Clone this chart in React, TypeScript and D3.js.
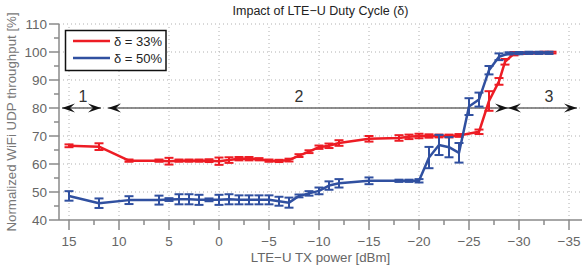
import React from "react";
import * as d3 from "d3";

// LTE-U TX power [dBm] and normalized throughput [%]
const redX = [15, 12, 9, 6, 5, 4, 3, 2, 1, 0, -1, -2, -3, -4, -5, -6, -7, -8, -9, -10, -11, -12, -15, -18, -19, -20, -21, -22, -23, -24, -26, -27, -28, -28.6, -29.5, -30.5, -31.5, -32.5, -33.3];
const redY = [66.5, 66.2, 61.2, 61.2, 61.0, 61.2, 61.2, 61.2, 61.2, 61.0, 61.4, 61.9, 61.9, 61.7, 61.2, 61.1, 61.4, 63.0, 64.4, 66.0, 66.5, 67.5, 69.0, 69.3, 69.7, 70.0, 70.0, 70.0, 70.0, 70.2, 71.5, 82.5, 89.5, 96.5, 99.4, 99.6, 99.7, 99.8, 99.8];
const redErr = [0.5, 1.2, 0.4, 0.4, 1.2, 0.4, 0.4, 0.4, 0.5, 1.3, 1.0, 0.6, 0.6, 0.4, 0.4, 0.4, 0.5, 0.5, 0.5, 0.6, 0.8, 1.0, 1.0, 1.0, 0.8, 0.8, 0.6, 0.5, 0.5, 0.5, 0.8, 3.5, 1.2, 1.0, 0.6, 0.3, 0.3, 0.3, 0.3];

const blueX = [15, 12, 9, 6, 5, 4, 3, 2, 1, 0, -1, -2, -3, -4, -5, -6, -7, -8, -9, -10, -11, -12, -15, -18, -19, -20, -21, -22, -23, -24, -25, -26, -27, -28, -29, -30, -31, -32, -33];
const blueY = [48.6, 46.0, 47.1, 47.1, 47.3, 47.4, 47.4, 47.2, 47.2, 47.2, 47.4, 47.2, 47.2, 47.2, 47.2, 46.7, 46.2, 48.6, 49.5, 50.4, 52.3, 53.1, 54.0, 54.0, 54.0, 54.0, 62.3, 66.8, 66.0, 64.0, 80.5, 83.0, 93.5, 98.3, 99.5, 99.6, 99.7, 99.7, 99.7];
const blueErr = [1.7, 1.7, 1.4, 1.6, 0.5, 1.8, 1.8, 1.8, 0.5, 1.8, 1.8, 1.6, 1.6, 1.6, 1.6, 1.6, 1.8, 0.5, 0.8, 1.2, 1.5, 1.5, 1.2, 0.4, 0.4, 0.6, 3.8, 3.6, 3.6, 3.5, 3.0, 2.5, 1.5, 1.2, 0.4, 0.4, 0.4, 0.4, 0.4];

const seriesNames = ["δ = 33%", "δ = 50%"];
const seriesColors = ["#ed1c24", "#3050a0"];

// region annotations: [from, to] in dBm, label
const regionFrom = [15.7, 11.1, -28.9];
const regionTo = [11.8, -28.9, -35.8];
const regionLabels = ["1", "2", "3"];
const regionLabelX = [13.6, -8, -33];
const regionLevel = 80;

const xTicks = d3.range(15, -36, -5);
const xMinor = d3.range(12.5, -35, -5);
const yTicks = d3.range(40, 111, 10);
const yMinor = d3.range(45, 110, 10);

const W = 582;
const H = 268;
const FONT = "'Liberation Sans', Arial, sans-serif";

const Arrow = ({ x, y, dir }) => {
  // swallowtail arrowhead, tip at (x, y), pointing dir (+1 right, -1 left)
  const L = 13, w = 4.5, n = 8;
  const d = `M${x},${y}L${x - dir * L},${y - w}L${x - dir * n},${y}L${x - dir * L},${y + w}Z`;
  return <path d={d} fill="#111" />;
};

export default function App() {
  const x = d3.scaleLinear().domain([16, -36.3]).range([59, 582]);
  const y = d3.scaleLinear().domain([40, 110]).range([220, 24]);
  const fmt = d3.format("d");

  const series = [
    { xs: redX, ys: redY, es: redErr },
    { xs: blueX, ys: blueY, es: blueErr },
  ];

  const line = d3
    .line<number>()
    .x((d) => x(d[0]))
    .y((d) => y(d[1]));

  const x0 = x.range()[0];
  const x1 = x.range()[1];
  const y0 = y.range()[0];
  const y1 = y.range()[1];

  return (
    <svg
      width={W}
      height={H}
      style={{ position: "absolute", left: 0, top: 0, background: "#fff" }}
      fontFamily={FONT}
    >
      {/* grid */}
      <g stroke="#b0b0b0" strokeWidth={1} strokeDasharray="1,3">
        {xTicks.map((t) => (
          <line key={"gx" + t} x1={x(t)} x2={x(t)} y1={y0} y2={y1} />
        ))}
        {yTicks.slice(1).map((t) => (
          <line key={"gy" + t} x1={x0} x2={x1} y1={y(t)} y2={y(t)} />
        ))}
      </g>

      {/* axes */}
      <g stroke="#8a8a8a" strokeWidth={1.5}>
        <line x1={x0} x2={x1} y1={y0} y2={y0} />
        <line x1={x0} x2={x0} y1={y0} y2={y1} />
        {xTicks.map((t) => (
          <line key={"tx" + t} x1={x(t)} x2={x(t)} y1={y0} y2={y0 + 10} />
        ))}
        {xMinor.map((t) => (
          <line key={"mx" + t} x1={x(t)} x2={x(t)} y1={y0} y2={y0 + 5} />
        ))}
        {yTicks.map((t) => (
          <line key={"ty" + t} x1={x0 - 10} x2={x0} y1={y(t)} y2={y(t)} />
        ))}
        {yMinor.map((t) => (
          <line key={"my" + t} x1={x0 - 5} x2={x0} y1={y(t)} y2={y(t)} />
        ))}
      </g>
      <g fill="#666" fontSize={13.5}>
        {xTicks.map((t) => (
          <text key={"lx" + t} x={x(t)} y={y0 + 26} textAnchor="middle">
            {fmt(t)}
          </text>
        ))}
        {yTicks.map((t) => (
          <text key={"ly" + t} x={x0 - 12} y={y(t) + 5} textAnchor="end">
            {fmt(t)}
          </text>
        ))}
      </g>
      <text x={(x0 + x1) / 2} y={262} textAnchor="middle" fontSize={13.3} fill="#666">
        LTE−U TX power [dBm]
      </text>
      <text
        transform={`translate(16,${(y0 + y1) / 2}) rotate(-90)`}
        textAnchor="middle"
        fontSize={13.3}
        fill="#777"
      >
        Normalized WiFi UDP throughput [%]
      </text>
      <text x={(x0 + x1) / 2} y={15} textAnchor="middle" fontSize={12.5} fill="#222">
        Impact of LTE−U Duty Cycle (δ)
      </text>

      {/* region arrows */}
      {regionFrom.map((f, i) => (
        <g key={"r" + i}>
          <line
            x1={x(f)}
            x2={x(regionTo[i])}
            y1={y(regionLevel)}
            y2={y(regionLevel)}
            stroke="#6a6a6a"
            strokeWidth={1.5}
          />
          <Arrow x={x(f)} y={y(regionLevel)} dir={-1} />
          <Arrow x={x(regionTo[i])} y={y(regionLevel)} dir={1} />
          <text
            x={x(regionLabelX[i])}
            y={y(regionLevel) - 6}
            textAnchor="middle"
            fontSize={16}
            fill="#333"
          >
            {regionLabels[i]}
          </text>
        </g>
      ))}

      {/* data */}
      {series.map((s, si) => {
        const pts = s.xs.map((v, i) => [v, s.ys[i]]);
        const c = seriesColors[si];
        return (
          <g key={"s" + si} stroke={c} fill="none">
            <path d={line(pts) || ""} strokeWidth={2.5} strokeLinejoin="round" />
            {s.xs.map((v, i) => {
              const cx = x(v);
              const top = y(s.ys[i] + s.es[i]);
              const bot = y(s.ys[i] - s.es[i]);
              return (
                <g key={i} strokeWidth={2}>
                  <line x1={cx} x2={cx} y1={top} y2={bot} />
                  <line x1={cx - 4.5} x2={cx + 4.5} y1={top} y2={top} />
                  <line x1={cx - 4.5} x2={cx + 4.5} y1={bot} y2={bot} />
                </g>
              );
            })}
          </g>
        );
      })}

      {/* legend */}
      <g>
        <rect x={65.5} y={30.5} width={100.5} height={40} fill="#fff" stroke="#111" strokeWidth={1.5} />
        {seriesNames.map((n, i) => (
          <g key={"lg" + i}>
            <line x1={73} x2={110} y1={41 + i * 17} y2={41 + i * 17} stroke={seriesColors[i]} strokeWidth={2.5} />
            <text x={114} y={45.5 + i * 17} fontSize={13} fill="#222">
              {n}
            </text>
          </g>
        ))}
      </g>
    </svg>
  );
}
